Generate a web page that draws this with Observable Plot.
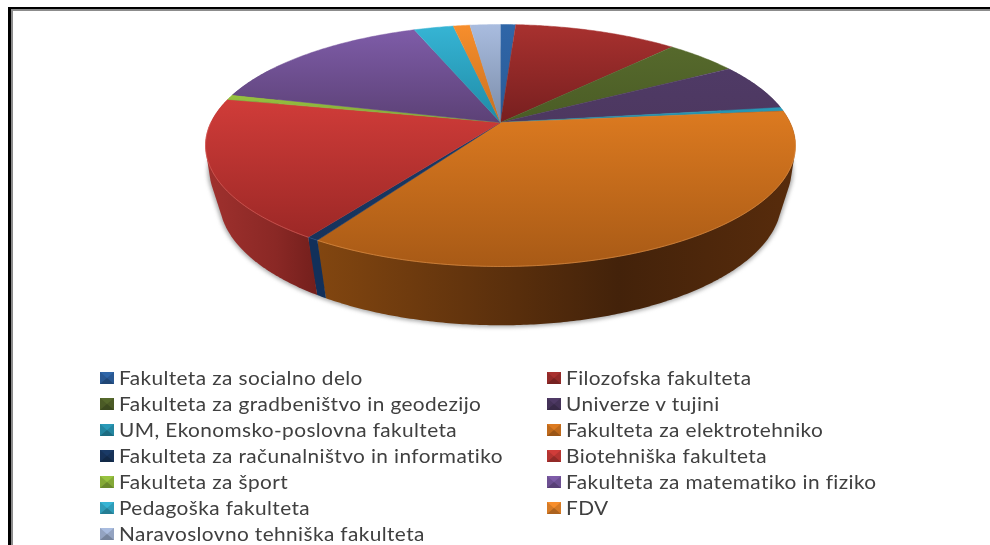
<!DOCTYPE html>
<html><head><meta charset="utf-8">
<script src="https://cdn.jsdelivr.net/npm/d3@7"></script>
<script src="https://cdn.jsdelivr.net/npm/@observablehq/plot@0.6"></script>
<style>
html,body{margin:0;background:#fff;width:990px;height:545px;overflow:hidden}
#wrap{position:relative;width:990px;height:545px;overflow:hidden}
#lt{position:absolute;left:8px;top:7px;width:3px;height:538px;background:#000}
#tt{position:absolute;left:8px;top:7px;width:982px;height:2px;background:#000}
#lg{position:absolute;left:11px;top:9px;width:2px;height:536px;background:#8c8c8c}
#tg{position:absolute;left:11px;top:9px;width:979px;height:2px;background:#8c8c8c}
#chart{position:absolute;left:0;top:0}
#legend{position:absolute;left:100px;top:365px;display:grid;grid-template-columns:447px 400px;grid-auto-rows:26px;font:18.5px Lato,sans-serif;color:#404040;letter-spacing:.35px}
.it{display:flex;align-items:center;white-space:nowrap}
.sw{display:inline-block;width:0;height:0;border-style:solid;border-width:6px 7px;margin-right:5px}
.tx{display:inline-block;transform:scaleX(1.126);transform-origin:left center}
</style></head><body>
<div id="wrap"><div id="chart"></div>
<div id="lt"></div><div id="tt"></div><div id="lg"></div><div id="tg"></div>
<div id="legend"></div></div>
<script>
const categories = ["Fakulteta za socialno delo","Filozofska fakulteta","Fakulteta za gradbeništvo in geodezijo","Univerze v tujini","UM, Ekonomsko-poslovna fakulteta","Fakulteta za elektrotehniko","Fakulteta za računalništvo in informatiko","Biotehniška fakulteta","Fakulteta za šport","Fakulteta za matematiko in fiziko","Pedagoška fakulteta","FDV","Naravoslovno tehniška fakulteta"];
const shares = [1.0,10.8,4.8,6.3,0.5,35.5,0.55,18.85,0.7,15.3,2.6,1.1,2.0];
const topLight = ["#2f66a8","#a8312f","#56692c","#4f3a66","#2a9ab8","#dc7a20","#1a3a66","#d03c39","#98c340","#7e5ca8","#36b4d4","#f78e2c","#a9bcdf"];
const topDark  = ["#2a5a96","#771f1f","#4a5c25","#4d3860","#2088a2","#a85a16","#16335c","#9c2826","#80a534","#5c4176","#1f8ba6","#c87020","#7a8ca8"];
const wallA = ["#1f4a80","#7c2421","#3d4c1e","#3a2a4d","#1a7088","#824610","#12305a","#a0312e","#6f8f2a","#4f3a70","#1a7a92","#a05a14","#66789a"];
const wallM = ["#1f4a80","#7c2421","#3d4c1e","#3a2a4d","#1a7088","#43220a","#12305a","#8a2825","#6f8f2a","#4f3a70","#1a7a92","#a05a14","#66789a"];
const wallB = ["#1f4a80","#7c2421","#3d4c1e","#3a2a4d","#1a7088","#582c0c","#12305a","#731f1c","#6f8f2a","#4f3a70","#1a7a92","#a05a14","#66789a"];
const rim = ["#5a8ccc","#cc5a58","#7c9444","#7a5f96","#50bcd8","#e89a50","#2d5288","#e06a66","#b8dc66","#a080cc","#70d0e8","#ffb060","#cfdcf2"];

// Perspective projection of the pie's faces (pixels relative to the apex).
const k = 0.19;
const topFace = {B:289.6, A:116.6, cy:122};
const midFace = {B:285.7, A:116.6, cy:147};
const botFace = {B:276, A:120.5, cy:176};
const project = (f, t) => {
  const u = Math.sin(t), v = Math.cos(t), d = 1 + k*v;
  return {x: 500 + f.B*u/d, y: f.cy - f.A*v/d};
};
const total = d3.sum(shares);
let run = 0;
const slices = shares.map((s,i)=>{const a0=run/total*2*Math.PI; run+=s; const a1=run/total*2*Math.PI; return {i,a0,a1};});
const arc = (f,a0,a1) => {
  const n = Math.max(2, Math.ceil((a1-a0)/0.01));
  return d3.range(n+1).map(j=>project(f,a0+(a1-a0)*j/n));
};
const apex = {x:500,y:topFace.cy};
const hullOf = pts => d3.polygonHull(pts.map(p=>[p.x,p.y])).map(([x,y])=>({x,y}));
const outline = hullOf([...arc(midFace,0,2*Math.PI),...arc(botFace,0,2*Math.PI)]);

const defs = () => {
  const NS="http://www.w3.org/2000/svg";
  const d=document.createElementNS(NS,"defs");
  const grad=(id,x2,y2,stops)=>{
    const g=document.createElementNS(NS,"linearGradient");
    g.setAttribute("id",id);g.setAttribute("x1",0);g.setAttribute("y1",0);g.setAttribute("x2",x2);g.setAttribute("y2",y2);
    stops.forEach(([o,c])=>{const s=document.createElementNS(NS,"stop");s.setAttribute("offset",o);s.setAttribute("stop-color",c);g.appendChild(s);});
    d.appendChild(g);
  };
  shares.forEach((_,i)=>{
    grad("t"+i,0,1,[[0,topLight[i]],[1,topDark[i]]]);
    grad("w"+i,1,0,[[0,wallA[i]],[.63,wallM[i]],[1,wallB[i]]]);
  });
  return d;
};

const marks = [defs,
  Plot.line(outline,{x:"x",y:"y",fill:"#9a9a9a",stroke:"#9a9a9a",strokeWidth:3,fillOpacity:.75,imageFilter:"blur(2px)"})
];
// side wall of the slices that face the viewer
slices.forEach(s=>{
  const a0=Math.max(s.a0,Math.PI/3), a1=Math.min(s.a1,Math.PI*5/3);
  if(a1<=a0) return;
  const poly=hullOf([...arc(topFace,a0,a1),...arc(midFace,a0,a1),...arc(botFace,a0,a1)]);
  marks.push(Plot.line(poly,{x:"x",y:"y",fill:`url(#w${s.i})`,stroke:"none"}));
});
// top face
slices.forEach(s=>{
  marks.push(Plot.line([apex,...arc(topFace,s.a0,s.a1)],{x:"x",y:"y",fill:`url(#t${s.i})`,stroke:`url(#t${s.i})`,strokeWidth:.5}));
});
// thin highlight on the front rim
slices.forEach(s=>{
  const a0=Math.max(s.a0,Math.PI/2+.15), a1=Math.min(s.a1,Math.PI*1.5);
  if(a1>a0) marks.push(Plot.line(arc(topFace,a0,a1),{x:"x",y:"y",stroke:rim[s.i],strokeWidth:1,strokeOpacity:.6}));
});

const svg = Plot.plot({
  width:990,height:345,margin:0,
  x:{domain:[0,990],range:[0,990],axis:null},
  y:{domain:[0,345],range:[0,345],axis:null},
  marks
});
document.getElementById("chart").appendChild(svg);

const lg=document.getElementById("legend");
categories.forEach((c,i)=>{
  const it=document.createElement("div");it.className="it";
  const sw=document.createElement("span");sw.className="sw";
  sw.style.borderColor=`${topLight[i]} ${d3.color(topLight[i]).darker(.4)} ${d3.color(topLight[i]).darker(1)}`;
  it.appendChild(sw);
  const t=document.createElement("span");t.className="tx";t.textContent=c;it.appendChild(t);
  lg.appendChild(it);
});
</script></body></html>
